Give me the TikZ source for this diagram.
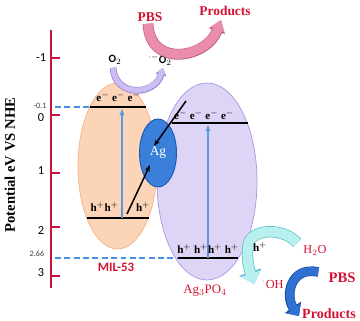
\documentclass[tikz,border=0pt]{standalone}
\usepackage{fontspec}
\setmainfont{Liberation Serif}
\setsansfont{Carlito}
\usetikzlibrary{arrows.meta,shapes.geometric,calc}

\definecolor{axisred}{RGB}{192,22,62}
\definecolor{labred}{RGB}{212,18,52}
\definecolor{dashblue}{RGB}{74,144,226}
\definecolor{milfill}{RGB}{252,212,184}
\definecolor{milline}{RGB}{244,178,130}
\definecolor{agpfill}{RGB}{222,212,246}
\definecolor{agpline}{RGB}{170,150,230}
\definecolor{agfill}{RGB}{58,128,218}
\definecolor{agline}{RGB}{30,88,180}
\definecolor{upblue}{RGB}{88,152,226}
\definecolor{lavfill}{RGB}{204,190,242}
\definecolor{lavline}{RGB}{150,128,214}
\definecolor{pinkfill}{RGB}{234,140,174}
\definecolor{pinkline}{RGB}{190,92,128}
\definecolor{cyanfill}{RGB}{184,240,240}
\definecolor{cyanline}{RGB}{92,190,200}
\definecolor{bandblue}{RGB}{48,112,210}
\definecolor{bandbluel}{RGB}{24,70,160}

\newcommand{\fsz}[1]{\fontsize{#1}{#1}\selectfont}

\begin{document}
\begin{tikzpicture}[x=0.03cm, y=-0.03cm,
  >={Stealth[length=2mm]},
  axis/.style={draw=axisred, line width=2pt},
  ticklbl/.style={font=\sffamily\fsz{10.5}, inner sep=0pt},
  small/.style={font=\sffamily\fsz{7}, text=black!75, inner sep=0pt},
  lvl/.style={line width=2.4pt, black},
  guide/.style={draw=dashblue, line width=1.1pt, dash pattern=on 5pt off 3pt},
  carrier/.style={font=\bfseries\fsz{9.5}, inner sep=0pt},
  up/.style={->, draw=upblue, line width=1.1pt},
  arr/.style={->, line width=1.3pt},
  rlbl/.style={text=labred, inner sep=0pt},
  band/.style n args={4}{line width=#1, draw=#2,
    -{Triangle[length=0pt 1.1, width=0pt #4]},
    preaction={draw=#3, line width=#1+1.2pt,
      -{Triangle[length=0pt 1.1, width=0pt #4]}}}]
  \useasboundingbox (0,0) rectangle (360,321);

  % potential axis
  \coordinate (atop) at (51,30);
  \coordinate (abot) at (51,288);
  \draw[axis] (atop) -- (abot);
  \foreach \v/\y/\ly in {-1/58/58, 0/115/118, 1/173/171, 2/227/231, 3/276/273} {
    \draw[axis] (51,\y) -- (60,\y);
    \node[ticklbl] (t\v) at (41,\ly) {\v};
  }
  \node[small] (m01) at (40,106) {-0.1};
  \node[small] (m266) at (37,254) {2.66};
  \node[rotate=90, font=\bfseries\fsz{12.5}] (ylab) at (10,165) {Potential eV VS NHE};

  % semiconductors
  \node[ellipse, fill=milfill, draw=milline, line width=0.6pt,
    minimum width=2.37cm, minimum height=4.98cm] (mil) at (117.5,166) {};
  \node[ellipse, fill=agpfill, draw=agpline, line width=0.6pt,
    minimum width=3cm, minimum height=5.91cm] (agp) at (207,181.5) {};

  \coordinate (mcbl) at (90,107);  \coordinate (mcbr) at (146,107);
  \coordinate (mvbl) at (87,218);  \coordinate (mvbr) at (149,218);
  \coordinate (acbl) at (172,123); \coordinate (acbr) at (248,123);
  \coordinate (avbl) at (178,258); \coordinate (avbr) at (238,258);
  \coordinate (g1) at (55,107);
  \coordinate (g2) at (55,258);

  \draw[guide] (g1) -- (mcbl);
  \draw[guide] (g2) -- (avbl);
  \draw[lvl] (mcbl) -- (mcbr);
  \draw[lvl] (mvbl) -- (mvbr);
  \draw[lvl] (acbl) -- (acbr);
  \draw[lvl] (avbl) -- (avbr);

  \coordinate (mup0) at (122,218); \coordinate (mup1) at (122,109);
  \coordinate (aup0) at (208,258); \coordinate (aup1) at (208,125);
  \draw[up] (mup0) -- (mup1);
  \draw[up] (aup0) -- (aup1);

  \node[ellipse, fill=agfill, draw=agline, line width=0.8pt, text=white,
    font=\fsz{11.5}, minimum width=1.11cm, minimum height=2.04cm,
    inner sep=0pt] (ag) at (158,153) {Ag};

  \coordinate (hs) at (127,214);
  \coordinate (es) at (186,101);
  \draw[arr] (hs) -- ($(ag.center)+(-8,12)$);
  \draw[arr] (es) -- ($(ag.center)+(-4,-7)$);

  \node[carrier] (me) at (118.5,97) {e$^-$ e$^-$ e$^-$};
  \node[carrier] (ae) at (204,115) {e$^-$ e$^-$ e$^-$ e$^-$};
  \node[carrier] (mh1) at (104.5,207) {h$^+$h$^+$};
  \node[carrier] (mh2) at (143,207) {h$^+$};
  \node[carrier] (ah) at (208,249) {h$^+$ h$^+$h$^+$ h$^+$};

  \node[rlbl, font=\sffamily\bfseries\fsz{11}] (miltxt) at (116,267) {MIL-53};
  \node[rlbl, font=\fsz{11}] (agptxt) at (205,291) {Ag$_3$PO$_4$};

  % oxygen reduction
  \node[font=\sffamily\bfseries\fsz{9.5}, inner sep=0pt] (o2) at (115,60) {O$_2$};
  \node[font=\sffamily\bfseries\fsz{9.5}, inner sep=0pt] (o2r) at (160,60) {$^{\cdot-}$O$_2$};
  \draw[band={4.5pt}{lavfill}{lavline}{1.6}] ($(o2.south)+(-2,3)$)
    .. controls +(2,30) and +(-8,28) .. ($(o2r.south)+(3,2)$);

  \node[rlbl, font=\bfseries\fsz{11.5}] (pbs1) at (150,17) {PBS};
  \node[rlbl, font=\bfseries\fsz{11.5}] (prod1) at (225,11) {Products};
  \draw[band={8pt}{pinkfill}{pinkline}{1.5}] ($(pbs1.south)+(-2,2)$)
    .. controls +(2,45) and +(-14,38) .. ($(prod1.south)+(-4,4)$);

  % hole oxidation
  \node[rlbl, font=\fsz{10.5}] (h2o) at (315,250) {H$_2$O};
  \node[rlbl, font=\fsz{10.5}] (oh) at (273,284) {$^{\cdot}$OH};
  \coordinate (hook) at (248,246);
  \draw[band={8.5pt}{cyanfill}{cyanline}{2.0}] ($(h2o.west)+(-6,-7)$)
    .. controls +(-14,-16) and +(2,-18) .. (hook)
    .. controls +(-2,14) and +(-4,-12) .. ($(oh.west)+(-8,0)$);
  \node[carrier] (hp) at (260,247) {h$^+$};

  \node[rlbl, font=\bfseries\fsz{12.5}] (pbs2) at (342,278) {PBS};
  \node[rlbl, font=\bfseries\fsz{12}] (prod2) at (329,314) {Products};
  \draw[band={7pt}{bandblue}{bandbluel}{2.0}] ($(pbs2.west)+(-10,-6)$)
    .. controls +(-28,-6) and +(-14,-20) .. ($(prod2.west)+(-3,2)$);
\end{tikzpicture}
\end{document}
